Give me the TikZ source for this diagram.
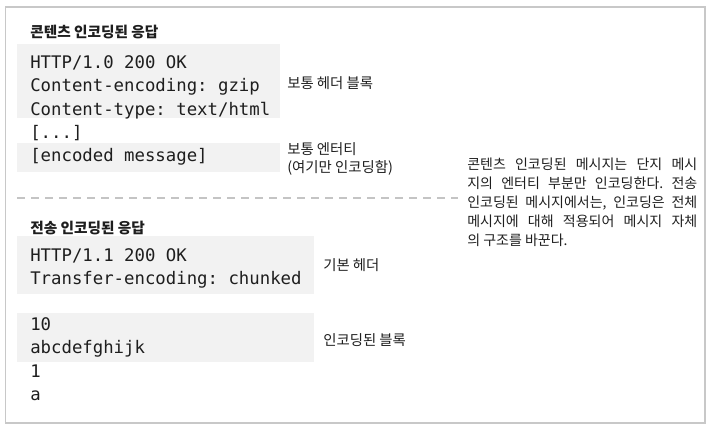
\documentclass[tikz,border=0pt]{standalone}
\usepackage{fontspec}
\setmainfont{Noto Sans CJK KR}
\setmonofont{DejaVu Sans Mono}
\definecolor{codegray}{HTML}{F2F2F2}
\definecolor{framegray}{HTML}{C8C8C8}
\definecolor{dashgray}{HTML}{C4C4C4}
\definecolor{inkblack}{HTML}{1E1E1E}
\frenchspacing

\begin{document}
\begin{tikzpicture}[x=0.75pt, y=-0.75pt, inner sep=0pt, text=inkblack,
  code/.style={anchor=base west, font=\ttfamily\fontsize{13}{15}\selectfont},
  title/.style={anchor=west, font=\bfseries\fontsize{11}{13}\selectfont},
  note/.style={anchor=west, align=left, font=\fontsize{10.8}{13.5}\selectfont}]

\useasboundingbox (0,0) rectangle (717,433);
\draw[framegray, line width=1.1pt] (5.5,7) rectangle (705,423);

% content-encoded response
\node[title] (t1) at (30,32.5) {콘텐츠 인코딩된 응답};
\fill[codegray] (17,44) rectangle (280,118);
\fill[codegray] (17,143) rectangle (280,172);
\node[code] (c1) at (30,68.3) {HTTP/1.0 200 OK};
\node[code] (c2) at (30,91.7) {Content-encoding: gzip};
\node[code] (c3) at (30,115.1) {Content-type: text/html};
\node[code] (c4) at (30,138.5) {[...]};
\node[code] (c5) at (30,161.9) {[encoded message]};
\node[note] (n1) at (287,83) {보통 헤더 블록};
\node[note] (n2) at (287,158.5) {보통 엔터티\\(여기만 인코딩함)};

\coordinate (sepL) at (17,198);
\coordinate (sepR) at (458,198);
\draw[dashgray, line width=0.8pt, dash pattern=on 6pt off 4.5pt] (sepL)--(sepR);

% transfer-encoded response
\node[title] (t2) at (30,228) {전송 인코딩된 응답};
\fill[codegray] (17,236) rectangle (314,294);
\fill[codegray] (17,313) rectangle (314,362);
\node[code] (d1) at (30,261) {HTTP/1.1 200 OK};
\node[code] (d2) at (30,284.4) {Transfer-encoding: chunked};
\node[code] (d3) at (30,330.5) {10};
\node[code] (d4) at (30,353.9) {abcdefghijk};
\node[code] (d5) at (30,377.3) {1};
\node[code] (d6) at (30,400.7) {a};
\node[note] (n3) at (323,265) {기본 헤더};
\node[note] (n4) at (323,340) {인코딩된 블록};

\node[anchor=north west, text width=172.5pt, align=justify,
  font=\fontsize{10.5}{14.25}\selectfont] (para) at (467,158)
  {콘텐츠 인코딩된 메시지는 단지 메시\linebreak
   지의 엔터티 부분만 인코딩한다. 전송\linebreak
   인코딩된 메시지에서는, 인코딩은 전체\linebreak
   메시지에 대해 적용되어 메시지 자체\linebreak
   의 구조를 바꾼다.};
\end{tikzpicture}
\end{document}
